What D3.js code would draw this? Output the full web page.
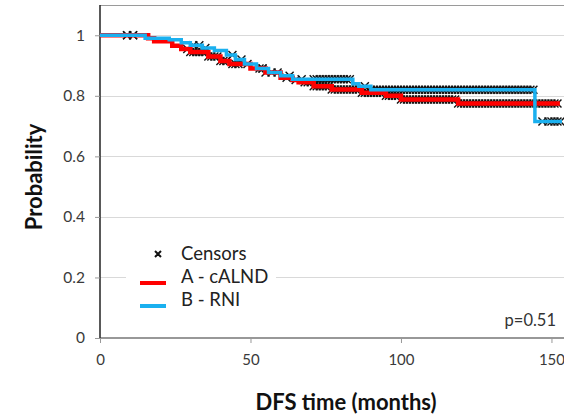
<!DOCTYPE html>
<html>
<head>
<meta charset="utf-8">
<script src="https://cdn.jsdelivr.net/npm/d3@7"></script>
<style>
  body { margin: 0; background: #fff; }
  svg { display: block; }
  text { font-family: Lato, "Open Sans", sans-serif; }
</style>
</head>
<body>
<svg id="chart" width="564" height="416"></svg>
<script>
// Axis ticks
const xTicks = [0, 50, 100, 150];
const yTicks = [0, 0.2, 0.4, 0.6, 0.8, 1];
const yTickLabels = ["0", "0.2", "0.4", "0.6", "0.8", "1"];

// Kaplan-Meier step points, arm A (cALND)
const timeA = [0, 16, 18, 24, 27, 30, 36, 40, 43, 50, 55, 60, 64, 66, 71, 77, 87, 95, 100, 119, 152.8];
const survA = [1.0, 0.99, 0.98, 0.965, 0.955, 0.945, 0.93, 0.915, 0.905, 0.89, 0.877, 0.86, 0.852, 0.845, 0.832, 0.821, 0.81, 0.8, 0.788, 0.775, 0.775];

// Kaplan-Meier step points, arm B (RNI)
const timeB = [0, 15, 23, 27, 30, 34, 38, 42, 45, 48, 52, 56, 60, 64, 84, 86, 90, 144.5, 153.5];
const survB = [1.0, 0.99, 0.985, 0.975, 0.967, 0.958, 0.95, 0.935, 0.92, 0.905, 0.89, 0.877, 0.866, 0.855, 0.84, 0.832, 0.82, 0.715, 0.715];

// Censored observation times
const censorA = [9, 11, 29, 30, 31, 32, 33, 34, 35, 36, 37, 38, 39, 40, 41, 42, 44, 45, 46, 53, 54, 55, 57, 59, 62, 65, 68, 69, 70, 71, 72, 73, 74, 75, 76, 77, 78, 79, 80, 81, 82, 83, 84, 85, 86, 87, 88, 89, 90, 91, 92, 93, 94, 95, 96, 97, 98, 99, 100, 101, 102, 103, 104, 105, 106, 107, 108, 109, 110, 111, 112, 113, 114, 115, 116, 117, 118, 119, 120, 121, 122, 123, 124, 125, 126, 127, 128, 129, 130, 131, 132, 133, 134, 135, 136, 137, 138, 139, 140, 141, 142, 143, 144, 145, 146, 147, 148, 149, 150, 151, 152];
const censorB = [9, 11, 31, 33, 35, 44, 47, 49, 54, 63, 67, 71, 72, 73, 74, 75, 76, 77, 78, 79, 80, 81, 82, 83, 88, 90, 91, 92, 93, 94, 95, 96, 97, 98, 99, 100, 101, 102, 103, 104, 105, 106, 107, 108, 109, 110, 111, 112, 113, 114, 115, 116, 117, 118, 119, 120, 121, 122, 123, 124, 125, 126, 127, 128, 129, 130, 131, 132, 133, 134, 135, 136, 137, 138, 139, 140, 141, 142, 143, 144, 147, 149, 150, 151, 152, 153];

const svg = d3.select("#chart");
const x = d3.scaleLinear().domain([0, 154.5]).range([100, 565]);
const y = d3.scaleLinear().domain([0, 1.1]).range([338, 5]);

const tickColor = "#3a3a3a";

// Top frame line
svg.append("line").attr("x1", 100).attr("x2", 564).attr("y1", 5.5).attr("y2", 5.5)
  .attr("stroke", "#9a9a9a").attr("stroke-width", 1);

// Horizontal gridlines
svg.append("g").selectAll("line").data(yTicks.filter(d => d > 0)).join("line")
  .attr("x1", 100).attr("x2", 564)
  .attr("y1", d => Math.round(y(d)) + 0.5).attr("y2", d => Math.round(y(d)) + 0.5)
  .attr("stroke", "#d9d9d9").attr("stroke-width", 1);

// Shadow under the x axis
const defs = svg.append("defs");
defs.append("filter").attr("id", "soft").append("feGaussianBlur").attr("stdDeviation", 1.2);
svg.append("line").attr("x1", 100).attr("x2", 564).attr("y1", 341).attr("y2", 341)
  .attr("stroke", "#b0b0b0").attr("stroke-width", 3).attr("filter", "url(#soft)");

// Axes
const yAxis = d3.axisLeft(y).tickValues(yTicks).tickFormat((d, i) => yTickLabels[i]).tickSize(5).tickPadding(10);
const gy = svg.append("g").attr("transform", "translate(100,0)").call(yAxis);
gy.select(".domain").attr("d", `M0,${y(1.1)}V${y(0)}`).attr("stroke", "#222").attr("stroke-width", 1.5);
gy.selectAll(".tick line").attr("stroke", "#999");
gy.selectAll(".tick text").attr("font-size", 15.5).attr("fill", tickColor)
  .attr("font-family", "Lato, 'Open Sans', sans-serif");

const xAxis = d3.axisBottom(x).tickValues(xTicks).tickFormat(d3.format("d")).tickSize(5).tickPadding(11);
const gx = svg.append("g").attr("transform", "translate(0,338)").call(xAxis);
gx.select(".domain").attr("d", "M100,0H564").attr("stroke", "#333").attr("stroke-width", 1.2);
gx.selectAll(".tick line").attr("stroke", "#999");
gx.selectAll(".tick text").attr("font-size", 15).attr("fill", tickColor)
  .attr("font-family", "Lato, 'Open Sans', sans-serif");

// Step survival function lookup for placing censor marks
function stepAt(times, surv, t) {
  let v = surv[0];
  for (let i = 0; i < times.length; i++) { if (times[i] <= t) v = surv[i]; }
  return v;
}

const crossPath = "M-4,-4L4,4M-4,4L4,-4";

// Censor marks
const marks = svg.append("g");
marks.selectAll(".cA").data(censorA).join("path").attr("class", "cA")
  .attr("d", crossPath)
  .attr("transform", d => `translate(${x(d)},${y(stepAt(timeA, survA, d))})`)
  .attr("stroke", "#111").attr("stroke-width", 1.4).attr("fill", "none");
marks.selectAll(".cB").data(censorB).join("path").attr("class", "cB")
  .attr("d", crossPath)
  .attr("transform", d => `translate(${x(d)},${y(stepAt(timeB, survB, d))})`)
  .attr("stroke", "#111").attr("stroke-width", 1.4).attr("fill", "none");

// Survival curves
const line = d3.line().x(d => x(d[0])).y(d => y(d[1])).curve(d3.curveStepAfter);
svg.append("path").datum(timeA.map((t, i) => [t, survA[i]]))
  .attr("d", line).attr("fill", "none").attr("stroke", "#ff0000").attr("stroke-width", 4.5);
svg.append("path").datum(timeB.map((t, i) => [t, survB[i]]))
  .attr("d", line).attr("fill", "none").attr("stroke", "#1ab0ef").attr("stroke-width", 3.5);

// Legend
const lg = svg.append("g");
lg.append("rect").attr("x", 126).attr("y", 238).attr("width", 150).attr("height", 80).attr("fill", "#fff");
lg.append("path").attr("d", "M-3,-3L3,3M-3,3L3,-3").attr("transform", "translate(158,254)")
  .attr("stroke", "#111").attr("stroke-width", 2).attr("fill", "none");
lg.append("line").attr("x1", 140).attr("x2", 166).attr("y1", 283).attr("y2", 283)
  .attr("stroke", "#ff0000").attr("stroke-width", 4);
lg.append("line").attr("x1", 140).attr("x2", 166).attr("y1", 306).attr("y2", 306)
  .attr("stroke", "#1ab0ef").attr("stroke-width", 4);
const legendText = ["Censors", "A - cALND", "B - RNI"];
lg.selectAll("text").data(legendText).join("text")
  .attr("x", 181).attr("y", (d, i) => 260 + i * 23)
  .attr("font-size", 18.5).attr("fill", "#222").text(d => d);

// p-value
svg.append("text").attr("x", 556).attr("y", 326).attr("text-anchor", "end")
  .attr("font-size", 16.5).attr("fill", "#333").text("p=0.51");

// Axis titles
svg.append("text").attr("transform", "translate(42,177) rotate(-90)")
  .attr("text-anchor", "middle").attr("font-size", 22).attr("font-weight", "bold")
  .attr("fill", "#111").text("Probability");
svg.append("text").attr("x", 346).attr("y", 410).attr("text-anchor", "middle")
  .attr("font-size", 22).attr("font-weight", "bold").attr("fill", "#111").text("DFS time (months)");
</script>
</body>
</html>
